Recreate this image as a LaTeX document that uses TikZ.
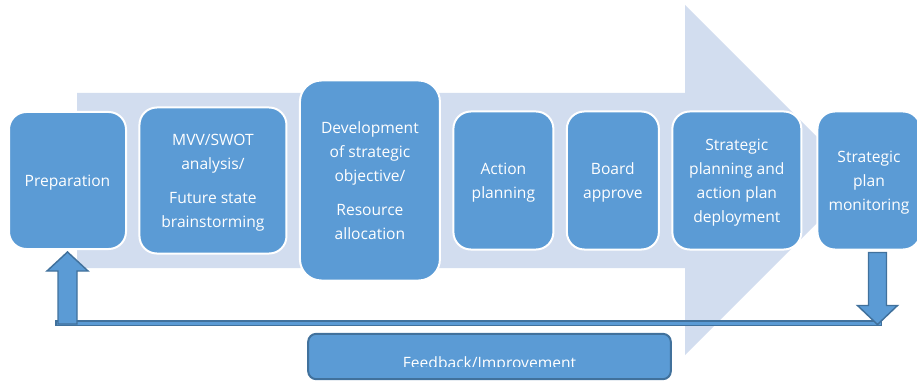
\documentclass[tikz,border=0pt]{standalone}
\usepackage{fontspec}
\setmainfont{Open Sans}
\usepackage{tikz}
\usetikzlibrary{calc}
\usetikzlibrary{positioning}
\definecolor{stageblue}{HTML}{5B9BD5}
\definecolor{stageedge}{HTML}{41719C}
\definecolor{flowbg}{HTML}{D2DDEF}
\tikzset{
    stage/.style={
           rectangle,
           rounded corners=13pt,
           draw=white, line width=1.5pt,
           fill=stageblue,
           text=white,
           minimum height=103.5pt,
           inner sep=2pt,
           align=center,
           text depth=-1.8pt,
           font=\fontsize{11.7}{18}\selectfont,
           },
    fbarrow/.style={fill=stageblue, draw=stageedge, line width=1.1pt},
}

\begin{document}
\begin{tikzpicture}[x=0.75pt, y=-0.75pt, node distance=8.6pt]
      \clip (0,0) rectangle (917,381);
      % light process arrow behind the stages
      \fill[flowbg] (77,93) -- (685,93) -- (685,5) -- (860,180)
                    -- (685,355) -- (685,268) -- (77,268) -- cycle;

      \node[stage, minimum width=87.75pt, minimum height=102.75pt] (prep) at (67.5,180.5) {Preparation};
      \node[stage, minimum width=110.25pt, minimum height=109.5pt] (mvv) [right=of prep]
            {MVV/SWOT\\analysis/\\[7.5pt]Future state\\brainstorming};
      \node[stage, minimum width=105pt, minimum height=150pt, rounded corners=16pt] (dev) [right=of mvv]
            {Development\\of strategic\\objective/\\[7.5pt]Resource\\allocation};
      \node[stage, minimum width=75pt] (act) [right=of dev]    {Action\\planning};
      \node[stage, minimum width=69pt] (board) [right=of act]  {Board\\approve};
      \node[stage, minimum width=96.75pt] (deploy) [right=of board]
            {Strategic\\planning and\\action plan\\deployment};
      \node[stage, minimum width=77.25pt] (mon) [right=of deploy, xshift=2pt]
            {Strategic\\plan\\monitoring};

      % feedback loop
      \coordinate (uptip) at ([yshift=-1.5pt]prep.south);
      \coordinate (dntop) at ([xshift=6.4pt, yshift=-1.5pt]mon.south);
      \draw[fbarrow, line width=0.8pt] ($(uptip)+(-11.5,69)$) rectangle ($(dntop)+(4,73)$);
      \draw[fbarrow] (uptip) -- ($(uptip)+(20.5,19)$) -- ($(uptip)+(9.5,19)$)
            -- ($(uptip)+(9.5,72)$) -- ($(uptip)+(-9.5,72)$) -- ($(uptip)+(-9.5,19)$)
            -- ($(uptip)+(-20.5,19)$) -- cycle;
      \draw[fbarrow] ($(dntop)+(-9,0)$) -- ($(dntop)+(9,0)$) -- ($(dntop)+(9,53)$)
            -- ($(dntop)+(20,53)$) -- ($(dntop)+(0,72)$) -- ($(dntop)+(-20,53)$)
            -- ($(dntop)+(-9,53)$) -- cycle;

      \node[fbarrow, rounded corners=6pt, minimum width=272pt, minimum height=34pt,
            line width=1.5pt] (fb) at (489.5,356.5) {};
      \begin{scope}
      \clip (307,333) rectangle (672,366);
      \node[text=white, font=\fontsize{11.7}{18}\selectfont, anchor=base,
            inner sep=0pt] (fbtext) at (489.5,368) {Feedback/Improvement};
      \end{scope}
\end{tikzpicture}
\end{document}
